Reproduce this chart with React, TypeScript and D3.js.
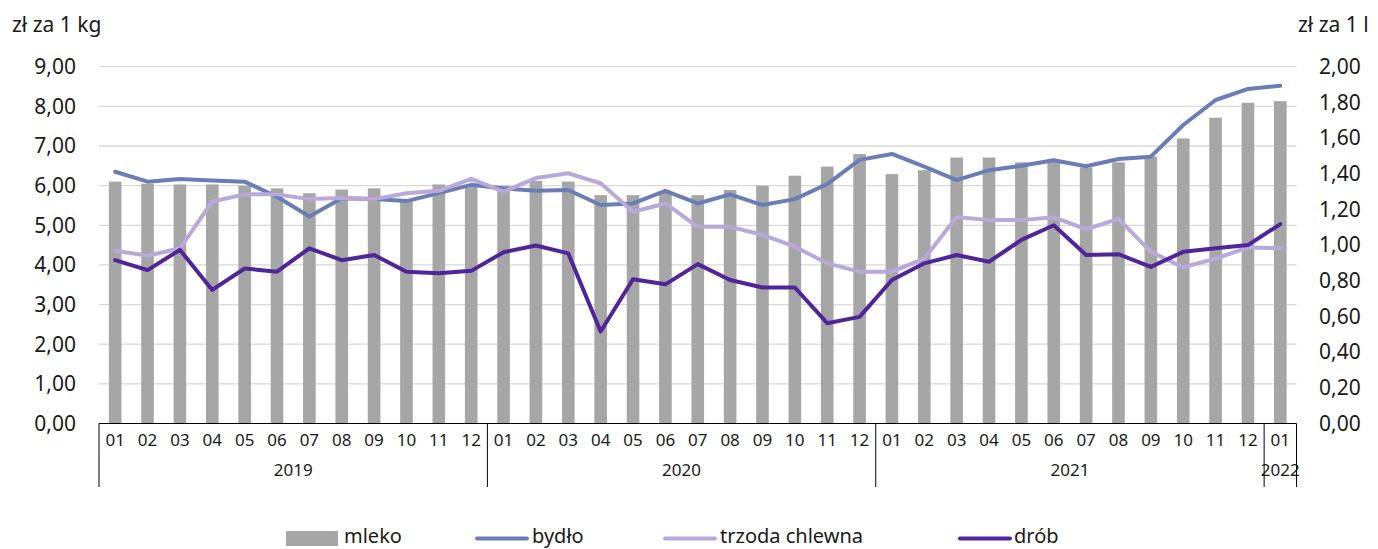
import React from "react";
import * as d3 from "d3";

const months = [
  "01","02","03","04","05","06","07","08","09","10","11","12",
  "01","02","03","04","05","06","07","08","09","10","11","12",
  "01","02","03","04","05","06","07","08","09","10","11","12",
  "01",
];
const years = [
  { label: "2019", start: 0, count: 12 },
  { label: "2020", start: 12, count: 12 },
  { label: "2021", start: 24, count: 12 },
  { label: "2022", start: 36, count: 1 },
];
// mleko, zł za 1 l (right axis)
const mleko = [
  1.356, 1.344, 1.34, 1.34, 1.333, 1.318, 1.291, 1.311, 1.318, 1.253, 1.34, 1.338,
  1.333, 1.36, 1.356, 1.28, 1.28, 1.298, 1.28, 1.309, 1.333, 1.389, 1.44, 1.511,
  1.398, 1.42, 1.491, 1.491, 1.464, 1.467, 1.435, 1.464, 1.496, 1.598, 1.714, 1.798,
  1.807,
];
// zł za 1 kg (left axis)
const bydlo = [
  6.35, 6.1, 6.17, 6.13, 6.1, 5.72, 5.22, 5.68, 5.66, 5.61, 5.81, 6.02,
  5.93, 5.87, 5.89, 5.51, 5.55, 5.87, 5.55, 5.78, 5.51, 5.66, 6.04, 6.65,
  6.8, 6.48, 6.14, 6.39, 6.5, 6.64, 6.49, 6.67, 6.73, 7.53, 8.16, 8.44,
  8.52,
];
const trzoda = [
  4.36, 4.23, 4.42, 5.6, 5.78, 5.78, 5.66, 5.69, 5.66, 5.81, 5.87, 6.17,
  5.85, 6.19, 6.31, 6.06, 5.34, 5.55, 4.96, 4.96, 4.76, 4.46, 4.04, 3.83,
  3.83, 4.16, 5.21, 5.13, 5.13, 5.2, 4.9, 5.16, 4.33, 3.94, 4.16, 4.44,
  4.42,
];
const drob = [
  4.12, 3.87, 4.38, 3.37, 3.91, 3.83, 4.42, 4.12, 4.25, 3.83, 3.79, 3.85,
  4.32, 4.49, 4.29, 2.32, 3.64, 3.51, 4.02, 3.62, 3.43, 3.43, 2.53, 2.69,
  3.62, 4.04, 4.25, 4.08, 4.63, 5.0, 4.25, 4.27, 3.95, 4.33, 4.42, 4.5,
  5.03,
];
const leftTicks = [0, 1, 2, 3, 4, 5, 6, 7, 8, 9];
const rightTicks = [0, 0.2, 0.4, 0.6, 0.8, 1.0, 1.2, 1.4, 1.6, 1.8, 2.0];

const lineSeries = [
  { name: "bydło", values: bydlo, color: "#6b7db6" },
  { name: "trzoda chlewna", values: trzoda, color: "#b9a8da" },
  { name: "drób", values: drob, color: "#50259a" },
];
const barColor = "#a6a6a6";

const W = 1378;
const H = 549;
const left = 99;
const right = 1296.5;
const top = 66.7;
const bottom = 423.5;

const font = "'Noto Sans', 'Open Sans', sans-serif";

export default function App() {
  const idx = months.map((_, i) => i);
  const x = d3.scaleBand<number>().domain(idx).range([left, right]).padding(0);
  const yL = d3.scaleLinear().domain([0, 9]).range([bottom, top]);
  const yR = d3.scaleLinear().domain([0, 2]).range([bottom, top]);
  const bw = x.bandwidth();
  const barW = bw * 0.39;
  const cx = (i: number) => (x(i) as number) + bw / 2;
  const line = d3
    .line<number>()
    .x((_, i) => cx(i))
    .y((d) => yL(d));
  const sepX = (i: number) => (i < months.length ? (x(i) as number) : right);

  const legendItems = [
    { name: "mleko", type: "bar", color: barColor, sx: 286, tx: 344 },
    { name: "bydło", type: "line", color: lineSeries[0].color, sx: 475, tx: 532 },
    { name: "trzoda chlewna", type: "line", color: lineSeries[1].color, sx: 663, tx: 720 },
    { name: "drób", type: "line", color: lineSeries[2].color, sx: 958, tx: 1014 },
  ];

  return (
    <svg
      width={W}
      height={H}
      style={{ position: "absolute", left: 0, top: 0, background: "#fff" }}
      fontFamily={font}
    >
      <rect width={W} height={H} fill="#fff" />
      {leftTicks.slice(1).map((t) => (
        <line key={t} x1={left} x2={right} y1={yL(t)} y2={yL(t)} stroke="#d9d9d9" strokeWidth={1.3} />
      ))}
      {mleko.map((v, i) => (
        <rect key={i} x={cx(i) - barW / 2} y={yR(v)} width={barW} height={bottom - yR(v)} fill={barColor} />
      ))}
      {lineSeries.map((s) => (
        <path
          key={s.name}
          d={line(s.values) || ""}
          fill="none"
          stroke={s.color}
          strokeWidth={4}
          strokeLinejoin="round"
          strokeLinecap="round"
        />
      ))}
      <line x1={left} x2={right} y1={bottom} y2={bottom} stroke="#000" strokeWidth={1} />
      {years.map((y) => (
        <line key={"s" + y.label} x1={sepX(y.start)} x2={sepX(y.start)} y1={bottom} y2={487} stroke="#000" strokeWidth={1} />
      ))}
      <line x1={right} x2={right} y1={bottom} y2={487} stroke="#000" strokeWidth={1} />
      {months.map((m, i) => (
        <text key={"m" + i} x={cx(i)} y={440} dy="0.35em" textAnchor="middle" fontSize={17} fill="#1a1a1a">
          {m}
        </text>
      ))}
      {years.map((y) => {
        const x0 = sepX(y.start);
        const x1 = sepX(y.start + y.count);
        return (
          <text key={y.label} x={(x0 + x1) / 2} y={470} dy="0.35em" textAnchor="middle" fontSize={17} fill="#1a1a1a">
            {y.label}
          </text>
        );
      })}
      {leftTicks.map((t) => (
        <text key={"l" + t} x={76} y={yL(t)} dy="0.35em" textAnchor="end" fontSize={21} fill="#1a1a1a">
          {d3.format(".2f")(t).replace(".", ",")}
        </text>
      ))}
      {rightTicks.map((t) => (
        <text key={"r" + t} x={1319} y={yR(t)} dy="0.35em" textAnchor="start" fontSize={21} fill="#1a1a1a">
          {d3.format(".2f")(t).replace(".", ",")}
        </text>
      ))}
      <text x={12} y={25} dy="0.35em" fontSize={21} fill="#1a1a1a">zł za 1 kg</text>
      <text x={1298} y={25} dy="0.35em" fontSize={21} fill="#1a1a1a">zł za 1 l</text>
      {legendItems.map((it) => (
        <g key={it.name}>
          {it.type === "bar" ? (
            <rect x={it.sx} y={531} width={52} height={15} fill={it.color} />
          ) : (
            <line x1={it.sx + 2} x2={it.sx + 52} y1={538.5} y2={538.5} stroke={it.color} strokeWidth={4} strokeLinecap="round" />
          )}
          <text x={it.tx} y={536} dy="0.35em" fontSize={20} fill="#1a1a1a">{it.name}</text>
        </g>
      ))}
    </svg>
  );
}
